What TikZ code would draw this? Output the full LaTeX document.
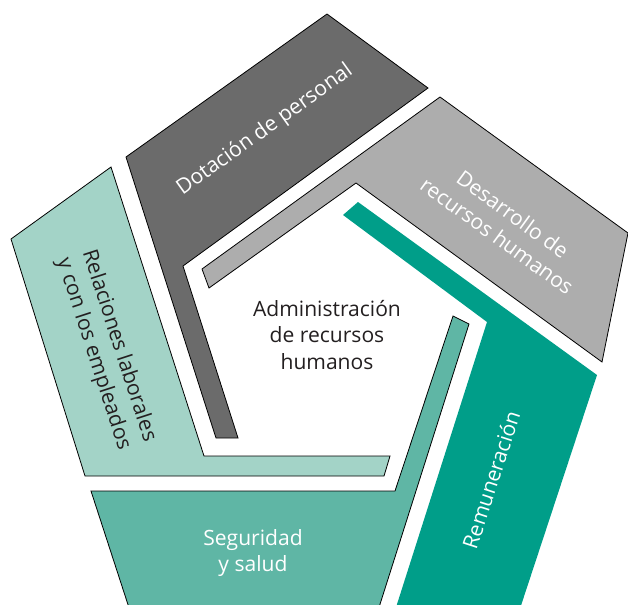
\documentclass[tikz,border=0pt]{standalone}
\usepackage{fontspec}
\setmainfont{Open Sans}
\usepackage{tikz}

\definecolor{darkband}{HTML}{6B6B6B}
\definecolor{greyband}{HTML}{ADADAD}
\definecolor{tealband}{HTML}{009E89}
\definecolor{midband}{HTML}{5FB6A5}
\definecolor{lightband}{HTML}{A3D3C7}
\definecolor{inktext}{HTML}{231F20}

\begin{document}
\begin{tikzpicture}[x=0.75pt,y=0.75pt,yscale=-1,xscale=1,
    band/.style={draw=black, line width=0.6pt},
    lbl/.style={inner sep=0.75pt, align=center, font=\fontsize{15.8}{20}\selectfont}]
        \useasboundingbox (0,0) rectangle (628,604);
        \clip (0,0) rectangle (628,604);

        %Shape: Polygon [id:dotacion]
        \draw [band, fill=darkband]  (126,157) -- (327,14) -- (428,88) -- (183,266) -- (238,438) -- (216,438) -- cycle ;
        %Shape: Polygon [id:desarrollo]
        \draw [band, fill=greyband]  (440,97) -- (628,233) -- (602,362) -- (356,183) -- (209,288) -- (202,269) -- cycle ;
        %Shape: Polygon [id:remuneracion]
        \fill [tealband]  (358,202) -- (597,375) -- (508,645) -- (384,645) -- (487,322) -- (343,215) -- cycle ;
        %Shape: Polygon [id:seguridad]
        \draw [band, fill=midband]  (91,491) -- (395,491) -- (453,316) -- (469,324) -- (375,620) -- (133,620) -- cycle ;
        %Shape: Polygon [id:relaciones]
        \draw [band, fill=lightband]  (11,239) -- (111,167) -- (204,456) -- (390,456) -- (384,476) -- (85,476) -- cycle ;

        % Text Node
        \draw (327,335) node (centro) [lbl, text=inktext] {Administración\\de recursos\\humanos};
        % Text Node
        \draw (265,130) node (dotacion) [lbl, text=white, rotate=35.5] {Dotación de personal};
        % Text Node
        \draw (505,225) node (desarrollo) [lbl, text=white, rotate=-36] {Desarrollo de\\recursos humanos};
        % Text Node
        \draw (491,480) node (remuneracion) [lbl, text=white, rotate=72] {Remuneración};
        % Text Node
        \draw (253,553) node (seguridad) [lbl, text=white] {Seguridad\\y salud};
        % Text Node
        \draw (106,350) node (relaciones) [lbl, text=inktext, rotate=-72] {Relaciones laborales\\y con los empleados};

    \end{tikzpicture}
\end{document}
